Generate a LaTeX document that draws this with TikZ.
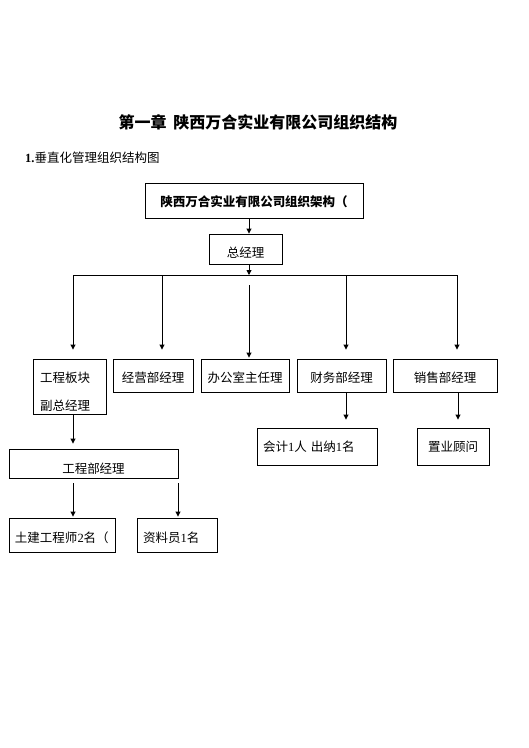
\documentclass[tikz,border=0pt]{standalone}
\usepackage{fontspec}
\setmainfont{Liberation Serif}
\newfontfamily\cjk{Noto Sans CJK SC}
\usetikzlibrary{arrows.meta}
\tikzset{
  box/.style={draw, line width=0.9pt, inner sep=0pt, font=\cjk\fontsize{12.5}{14}\selectfont},
  lbl/.style={inner sep=0pt, font=\cjk\fontsize{12.5}{14}\selectfont},
  conn/.style={line width=0.9pt},
  arr/.style={line width=0.9pt, -{Triangle[length=5pt,width=5pt]}},
}
\begin{document}
\begin{tikzpicture}[x=1pt,y=-1pt]
\useasboundingbox (0,0) rectangle (529,748);
% titles
\node[inner sep=0pt, font=\cjk\bfseries\fontsize{16}{18}\selectfont] (title) at (258,122) {第一章\hspace{7pt}陕西万合实业有限公司组织结构};
\node[anchor=west, inner sep=0pt, font=\cjk\fontsize{12.5}{14}\selectfont] (sub) at (25,158) {{\rmfamily\bfseries 1.}垂直化管理组织结构图};
% top levels
\node[box, minimum width=218, minimum height=35, text height=13pt, text depth=1pt, font=\cjk\bfseries\fontsize{12.5}{14}\selectfont] (top) at (254,200.5) {陕西万合实业有限公司组织架构（};
\node[box, minimum width=73, minimum height=30, text height=18pt, text depth=1pt] (gm) at (245.5,249) {总经理};
\coordinate (ax) at (249,275);
\coordinate (bl) at (73,275);
\coordinate (br) at (457,275);
\draw[arr] (top.south -| ax) -- (gm.north -| ax);
\draw[arr] (gm.south -| ax) -- (ax);
\draw[conn] (bl) -- (br);
% second level boxes
\node[box, minimum width=73, minimum height=55] (b1) at (69.5,386.5) {};
\node[lbl, anchor=west] (b1a) at (40,378) {工程板块};
\node[lbl, anchor=west] (b1b) at (40,406) {副总经理};
\tikzset{row/.style={box, minimum height=33, text height=15pt, text depth=1pt}}
\node[row, minimum width=80] (b2) at (153,375.5) {经营部经理};
\node[row, minimum width=88] (b3) at (245,375.5) {办公室主任理};
\node[row, minimum width=89] (b4) at (341.5,375.5) {财务部经理};
\node[row, minimum width=104] (b5) at (445,375.5) {销售部经理};
\coordinate (x2) at (162,275);
\coordinate (x4) at (346,275);
\coordinate (mid) at (249,285);
\draw[arr, shorten >=9pt] (bl) -- (b1.north -| bl);
\draw[arr, shorten >=9pt] (x2) -- (b2.north -| x2);
\draw[arr, shorten >=1pt] (mid) -- (b3.north -| mid);
\draw[arr, shorten >=9pt] (x4) -- (b4.north -| x4);
\draw[arr, shorten >=9pt] (br) -- (b5.north -| br);
% third level
\node[box, minimum width=120, minimum height=37, text width=108pt, align=left, inner xsep=6pt] (kj) at (317,446.5) {会计{\rmfamily 1}人 出纳{\rmfamily 1}名};
\node[box, minimum width=72, minimum height=37] (zy) at (453,446.5) {置业顾问};
\coordinate (x5) at (458,275);
\draw[arr, shorten >=8pt] (b4.south -| x4) -- (kj.north -| x4);
\draw[arr, shorten >=8pt] (b5.south -| x5) -- (zy.north -| x5);
\node[box, minimum width=169, minimum height=29, text height=21pt, text depth=1pt] (gc) at (93.5,463.5) {工程部经理};
\draw[arr, shorten >=5pt] (b1.south -| bl) -- (gc.north -| bl);
% fourth level
\node[box, minimum width=106, minimum height=34, text width=94pt, align=left, inner xsep=6pt, text height=16pt, text depth=1pt] (tj) at (62,535) {土建工程师{\rmfamily 2}名（};
\node[box, minimum width=80, minimum height=34, text width=68pt, align=left, inner xsep=6pt, text height=16pt, text depth=1pt] (zl) at (177,535) {资料员{\rmfamily 1}名};
\coordinate (x6) at (178,478);
\draw[arr, shorten <=5pt, shorten >=1pt] (gc.south -| bl) -- (tj.north -| bl);
\draw[arr, shorten <=5pt, shorten >=1pt] (x6) -- (zl.north -| x6);
\end{tikzpicture}
\end{document}
